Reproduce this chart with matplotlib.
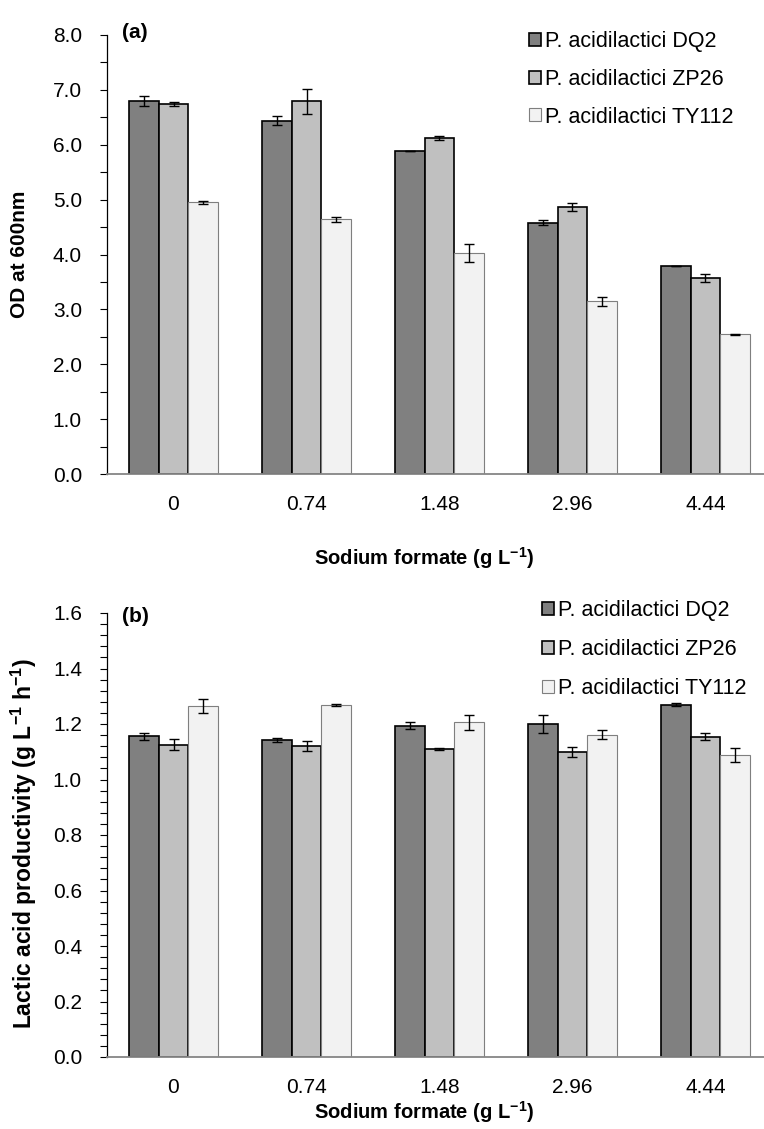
import numpy as np
import matplotlib
matplotlib.use('Agg')
import matplotlib.pyplot as plt
from matplotlib.ticker import MultipleLocator, FormatStrFormatter

plt.rcParams['font.family'] = ['Liberation Sans', 'DejaVu Sans']
plt.rcParams['mathtext.fontset'] = 'custom'
plt.rcParams['mathtext.rm'] = 'Liberation Sans'
plt.rcParams['mathtext.bf'] = 'Liberation Sans:bold'

# data
doses = ['0', '0.74', '1.48', '2.96', '4.44']
strains = ['P. acidilactici DQ2', 'P. acidilactici ZP26', 'P. acidilactici TY112']

od_dq2 = [6.79, 6.44, 5.88, 4.58, 3.79]
od_zp26 = [6.74, 6.79, 6.12, 4.86, 3.57]
od_ty112 = [4.95, 4.64, 4.03, 3.15, 2.55]
od_dq2_err = [0.09, 0.08, 0.0, 0.04, 0.0]
od_zp26_err = [0.04, 0.23, 0.04, 0.07, 0.08]
od_ty112_err = [0.03, 0.05, 0.17, 0.08, 0.01]

prod_dq2 = [1.155, 1.141, 1.194, 1.199, 1.270]
prod_zp26 = [1.125, 1.121, 1.110, 1.098, 1.154]
prod_ty112 = [1.265, 1.268, 1.207, 1.162, 1.088]
prod_dq2_err = [0.012, 0.007, 0.013, 0.033, 0.006]
prod_zp26_err = [0.020, 0.018, 0.003, 0.018, 0.012]
prod_ty112_err = [0.026, 0.003, 0.027, 0.017, 0.025]

colors = ['#808080', '#c0c0c0', '#f2f2f2']
edges = ['black', 'black', '#7f7f7f']
lws = [1.2, 1.2, 0.8]

W, H = 764, 1129
fig = plt.figure(figsize=(W / 100, H / 100), dpi=100)
ax1 = fig.add_axes([107 / W, 1 - 474 / H, 665 / W, 439 / H])
ax2 = fig.add_axes([107 / W, 1 - 1057 / H, 665 / W, 444 / H])

x = np.arange(len(doses))
bw = 0.225


def draw(ax, series, errs, ymax, major, minor, xlab_y):
    for i, (vals, err) in enumerate(zip(series, errs)):
        ax.bar(x + (i - 1) * bw, vals, bw, color=colors[i], edgecolor=edges[i],
               linewidth=lws[i], label=strains[i], zorder=2)
        ax.errorbar(x + (i - 1) * bw, vals, yerr=err, fmt='none', ecolor='black',
                    elinewidth=1, capsize=3.3, capthick=1, zorder=3)
    ax.set_xlim(-0.5, 4.5)
    ax.set_ylim(0, ymax)
    ax.set_xticks(x)
    ax.set_xticklabels(doses)
    ax.yaxis.set_major_locator(MultipleLocator(major))
    ax.yaxis.set_minor_locator(MultipleLocator(minor))
    ax.yaxis.set_major_formatter(FormatStrFormatter('%.1f'))
    ax.tick_params(axis='x', length=0, pad=15, labelsize=15)
    ax.tick_params(axis='y', which='both', direction='out', length=5, width=0.8,
                   pad=13, labelsize=15)
    ax.spines['top'].set_visible(False)
    ax.spines['right'].set_visible(False)
    ax.spines['left'].set_linewidth(0.9)
    ax.spines['bottom'].set_color('#868686')
    ax.spines['bottom'].set_linewidth(1.3)
    ax.set_xlabel(r'Sodium formate (g L$^{\mathbf{-1}}$)', fontsize=14.5,
                  fontweight='bold')
    ax.xaxis.set_label_coords(0.477, xlab_y)
    ax.yaxis.set_label_coords(-0.118, 0.5)


draw(ax1, [od_dq2, od_zp26, od_ty112], [od_dq2_err, od_zp26_err, od_ty112_err],
     8, 1, 0.5, -0.162)
ax1.set_ylabel('OD at 600nm', fontsize=15, fontweight='bold')

draw(ax2, [prod_dq2, prod_zp26, prod_ty112],
     [prod_dq2_err, prod_zp26_err, prod_ty112_err], 1.6, 0.2, 0.04, -0.094)
ax2.set_ylabel(r'Lactic acid productivity (g L$^{\mathbf{-1}}$ h$^{\mathbf{-1}}$)',
               fontsize=16.5, fontweight='bold')
ax2.yaxis.set_label_coords(-0.103, 0.48)

for ax, bx, by, sp in [(ax1, 529, 31, 0.78), (ax2, 542, 600, 0.84)]:
    ax.legend(loc='upper left', bbox_to_anchor=(bx / W, 1 - by / H),
              bbox_transform=fig.transFigure, frameon=False, fontsize=15.5,
              handlelength=0.55, handleheight=0.55, handletextpad=0.2,
              labelspacing=sp, borderpad=0, borderaxespad=0)

fig.text(122 / W, 1 - 33 / H, '(a)', fontsize=15, fontweight='bold', va='center')
fig.text(122 / W, 1 - 616 / H, '(b)', fontsize=15, fontweight='bold', va='center')

fig.savefig('out.png', dpi=100)
